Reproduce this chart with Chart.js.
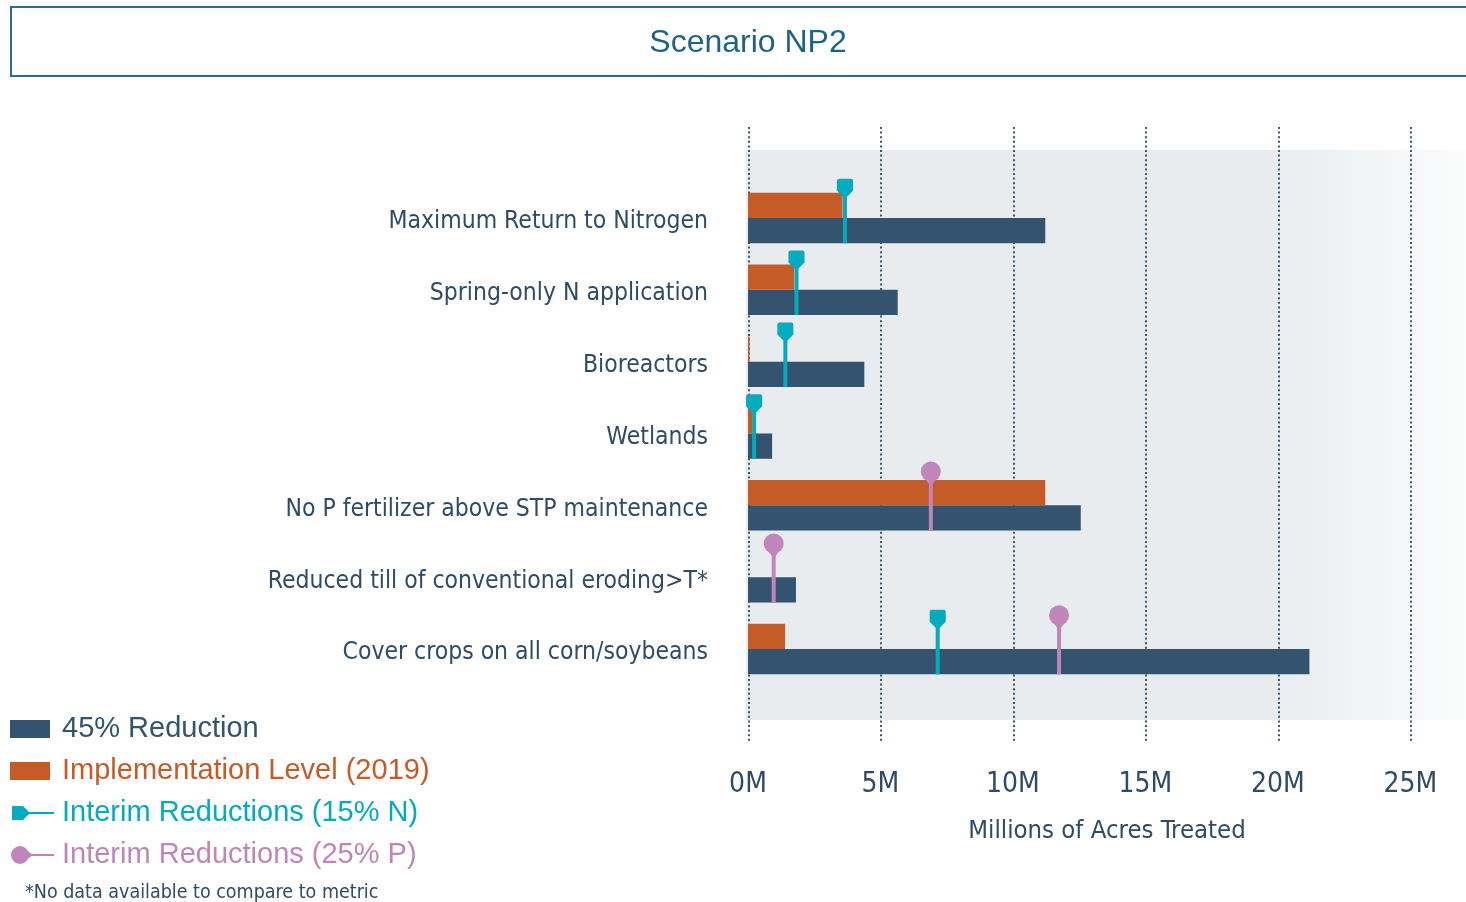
<!DOCTYPE html>
<html>
<head>
<meta charset="utf-8">
<script src="https://cdn.jsdelivr.net/npm/chart.js@4.4.1/dist/chart.umd.min.js"></script>
<style>
  html, body { margin: 0; padding: 0; background: #fff; overflow: hidden; }
  #wrap { position: relative; width: 1466px; height: 902px; overflow: hidden; }
  #chart { position: absolute; left: 0; top: 0; }
  .titlebox {
    position: absolute; left: 10px; top: 6px; width: 1480px; height: 71px;
    border: 2px solid #2f6d8c; box-sizing: border-box;
    font: 32px "Liberation Sans", Arial, sans-serif; color: #1f6384;
  }
  .titlebox span { position: absolute; left: 0; width: 1472px; top: 15px; text-align: center; }
  .legend { position: absolute; left: 10px; top: 708px; font: 29px "Liberation Sans", Arial, sans-serif; }
  .item { position: absolute; left: 0; height: 42px; white-space: nowrap; }
  .item .sw { position: absolute; left: 0; top: 12px; width: 40px; height: 18px; }
  .item .tx { position: absolute; left: 52px; top: 3px; }
  .item canvas { position: absolute; left: 0; top: 11px; }
  .note { position: absolute; left: 25px; top: 880px; font: 19.5px "Liberation Sans Narrow", "DejaVu Sans Condensed", sans-serif; color: #2f4b68; white-space: nowrap; }
</style>
</head>
<body>
<div id="wrap">
  <canvas id="chart" width="1466" height="902"></canvas>
  <div class="titlebox"><span>Scenario NP2</span></div>
  <div class="legend" id="legend"></div>
  <div class="note">*No data available to compare to metric</div>
</div>
<script>
const categories = [
  'Maximum Return to Nitrogen',
  'Spring-only N application',
  'Bioreactors',
  'Wetlands',
  'No P fertilizer above STP maintenance',
  'Reduced till of conventional eroding>T*',
  'Cover crops on all corn/soybeans'
];
const reduction45 = [11.22, 5.65, 4.39, 0.91, 12.56, 1.81, 21.19];
const implementation2019 = [3.57, 1.74, 0.06, 0.16, 11.22, null, 1.4];
const interimN = [3.66, 1.83, 1.41, 0.23, null, null, 7.16];
const interimP = [null, null, null, null, 6.9, 0.97, 11.74];
const xTicks = [0, 5, 10, 15, 20, 25];

const BLUE = '#33536f', ORANGE = '#c55b27', TEAL = '#03abbf', PINK = '#c086bb';
const LABEL = '#2f4b68';
const NARROW = '"Liberation Sans Narrow", "DejaVu Sans Condensed", sans-serif';

function tealPin(ctx, px, top) {
  ctx.beginPath();
  ctx.moveTo(px - 8, top + 2);
  ctx.quadraticCurveTo(px - 8, top, px - 6, top);
  ctx.lineTo(px + 6, top);
  ctx.quadraticCurveTo(px + 8, top, px + 8, top + 2);
  ctx.lineTo(px + 8, top + 12);
  ctx.lineTo(px + 2, top + 18);
  ctx.lineTo(px - 2, top + 18);
  ctx.lineTo(px - 8, top + 12);
  ctx.closePath();
  ctx.fill();
}
function pinkPin(ctx, px, cy) {
  ctx.beginPath();
  ctx.arc(px, cy, 10, 0, Math.PI * 2);
  ctx.fill();
  ctx.beginPath();
  ctx.moveTo(px - 6, cy + 7);
  ctx.lineTo(px, cy + 15);
  ctx.lineTo(px + 6, cy + 7);
  ctx.fill();
}

const backdrop = {
  id: 'backdrop',
  beforeDatasetsDraw(chart) {
    const { ctx, chartArea: a, scales: { x } } = chart;
    ctx.save();
    const g = ctx.createLinearGradient(1270, 0, a.right, 0);
    g.addColorStop(0, '#e8ecef');
    g.addColorStop(1, '#fbfcfc');
    ctx.fillStyle = g;
    ctx.fillRect(a.left - 2, a.top - 32, a.right - a.left + 2, a.bottom - a.top + 67);
    ctx.strokeStyle = '#3d5671';
    ctx.lineWidth = 2;
    ctx.setLineDash([2, 2.6]);
    x.ticks.forEach(t => {
      const px = Math.round(x.getPixelForValue(t.value)) + 1;
      ctx.beginPath();
      ctx.moveTo(px, a.top - 55);
      ctx.lineTo(px, a.bottom + 57);
      ctx.stroke();
    });
    ctx.restore();
  }
};

const lollipops = {
  id: 'lollipops',
  afterDatasetsDraw(chart) {
    const { ctx, scales: { x } } = chart;
    const blueMeta = chart.getDatasetMeta(1);
    ctx.save();
    const draw = (vals, color, kind) => {
      vals.forEach((v, i) => {
        if (v == null) return;
        const el = blueMeta.data[i];
        const h = el.height;
        const blueBottom = el.y + h / 2;
        const orangeTop = el.y - h / 2 - h;
        const px = x.getPixelForValue(v);
        ctx.fillStyle = color;
        if (kind === 'N') {
          const top = orangeTop - 14;
          ctx.fillRect(px - 2, top + 10, 4, blueBottom - top - 10);
          tealPin(ctx, px, top);
        } else {
          const cy = orangeTop - 8.5;
          ctx.fillRect(px - 2, cy, 4, blueBottom - cy);
          pinkPin(ctx, px, cy);
        }
      });
    };
    draw(interimN, TEAL, 'N');
    draw(interimP, PINK, 'P');
    ctx.restore();
  }
};

new Chart(document.getElementById('chart'), {
  type: 'bar',
  data: {
    labels: categories,
    datasets: [
      { label: 'Implementation Level (2019)', data: implementation2019, backgroundColor: ORANGE },
      { label: '45% Reduction', data: reduction45, backgroundColor: BLUE }
    ]
  },
  options: {
    indexAxis: 'y',
    responsive: false,
    animation: false,
    layout: { padding: { top: 182, right: 0, left: 0, bottom: 0 } },
    datasets: { bar: { categoryPercentage: 0.703, barPercentage: 1.0, borderWidth: 0 } },
    plugins: { legend: { display: false }, tooltip: { enabled: false } },
    scales: {
      x: {
        min: 0, max: 27.1,
        afterBuildTicks(scale) { scale.ticks = xTicks.map(v => ({ value: v })); },
        afterFit(scale) {
          scale.height = 902 - 685;
          scale.paddingLeft = 0;
          scale.paddingRight = 0;
        },
        grid: { display: false, drawTicks: false },
        border: { display: false },
        ticks: {
          padding: 83,
          color: LABEL,
          font: { family: NARROW, size: 28 },
          callback: v => v + 'M'
        },
        title: {
          display: true,
          text: 'Millions of Acres Treated',
          color: LABEL,
          font: { family: NARROW, size: 25.5 },
          padding: { top: 0, bottom: 55 }
        }
      },
      y: {
        afterFit(scale) { scale.width = 748; },
        grid: { display: false, drawTicks: false },
        border: { display: false },
        ticks: {
          padding: 40,
          labelOffset: 4,
          color: LABEL,
          font: { family: NARROW, size: 24.5 }
        }
      }
    }
  },
  plugins: [backdrop, lollipops]
});

// legend
const legendItems = [
  { text: '45% Reduction', color: BLUE, kind: 'box' },
  { text: 'Implementation Level (2019)', color: ORANGE, kind: 'box' },
  { text: 'Interim Reductions (15% N)', color: TEAL, kind: 'N' },
  { text: 'Interim Reductions (25% P)', color: PINK, kind: 'P' }
];
const legendEl = document.getElementById('legend');
legendItems.forEach((it, i) => {
  const d = document.createElement('div');
  d.className = 'item';
  d.style.top = (i * 42) + 'px';
  if (it.kind === 'box') {
    const sw = document.createElement('div');
    sw.className = 'sw';
    sw.style.background = it.color;
    d.appendChild(sw);
  } else {
    const c = document.createElement('canvas');
    c.width = 46; c.height = 20;
    const g = c.getContext('2d');
    g.fillStyle = it.color;
    g.fillRect(10, 9, 34, 2);
    if (it.kind === 'N') {
      g.beginPath();
      g.moveTo(2, 3); g.lineTo(13, 3); g.lineTo(19, 9); g.lineTo(19, 11); g.lineTo(13, 17); g.lineTo(2, 17);
      g.closePath(); g.fill();
    } else {
      g.beginPath(); g.arc(10, 10, 9, 0, Math.PI * 2); g.fill();
      g.beginPath(); g.moveTo(15, 4); g.lineTo(23, 10); g.lineTo(15, 16); g.fill();
    }
    d.appendChild(c);
  }
  const t = document.createElement('span');
  t.className = 'tx';
  t.textContent = it.text;
  t.style.color = it.color;
  d.appendChild(t);
  legendEl.appendChild(d);
});
</script>
</body>
</html>
